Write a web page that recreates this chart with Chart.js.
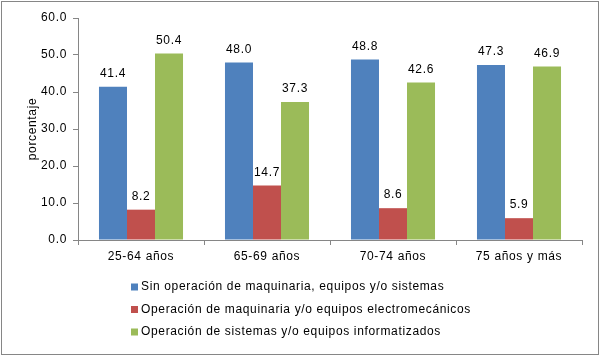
<!DOCTYPE html>
<html>
<head>
<meta charset="utf-8">
<script src="https://cdn.jsdelivr.net/npm/chart.js@4"></script>
<style>
  html, body { margin: 0; padding: 0; background: #fff; }
  #wrap { position: relative; width: 600px; height: 356px; }
  canvas { display: block; }
</style>
</head>
<body>
<div id="wrap"><canvas id="c" width="600" height="356"></canvas></div>
<script>
const categories = ["25-64 años", "65-69 años", "70-74 años", "75 años y más"];
const seriesNames = [
  "Sin operación de maquinaria, equipos y/o sistemas",
  "Operación de maquinaria y/o equipos electromecánicos",
  "Operación de sistemas y/o equipos informatizados"
];
const sinOperacion = [41.4, 48.0, 48.8, 47.3];
const maquinaria = [8.2, 14.7, 8.6, 5.9];
const sistemas = [50.4, 37.3, 42.6, 46.9];
const yTicks = [0, 10, 20, 30, 40, 50, 60];
const colors = ["#4F81BD", "#C0504D", "#9BBB59"];

const FONT = "Liberation Sans, Arial, sans-serif";
const SPACING = "0.65px";
Chart.defaults.font.family = FONT;
Chart.defaults.font.size = 12;
Chart.defaults.color = "#000";

const spacingPlugin = {
  id: "spacingPlugin",
  beforeLayout(chart) { chart.ctx.letterSpacing = SPACING; },
  beforeDraw(chart) { chart.ctx.letterSpacing = SPACING; }
};

const valueLabels = {
  id: "valueLabels",
  afterDatasetsDraw(chart) {
    const ctx = chart.ctx;
    ctx.save();
    ctx.letterSpacing = SPACING;
    ctx.font = "12px " + FONT;
    ctx.fillStyle = "#000";
    ctx.textAlign = "center";
    ctx.textBaseline = "middle";
    chart.data.datasets.forEach((ds, i) => {
      const meta = chart.getDatasetMeta(i);
      meta.data.forEach((bar, j) => {
        ctx.fillText(ds.data[j].toFixed(1), bar.x, bar.y - 13);
      });
    });
    ctx.restore();
  }
};

const customLegend = {
  id: "customLegend",
  afterDraw(chart) {
    const ctx = chart.ctx;
    ctx.save();
    ctx.letterSpacing = SPACING;
    ctx.font = "12px " + FONT;
    ctx.textBaseline = "middle";
    ctx.textAlign = "left";
    const x0 = 131, y0 = 287, dy = 22.5;
    chart.data.datasets.forEach((ds, i) => {
      const y = y0 + i * dy;
      ctx.fillStyle = ds.backgroundColor;
      ctx.fillRect(x0, y - 3.5, 7, 7);
      ctx.fillStyle = "#000";
      ctx.fillText(ds.label, x0 + 10, y);
    });
    ctx.strokeStyle = "#868686";
    ctx.lineWidth = 1;
    ctx.strokeRect(1.5, 1.5, 597, 353);
    ctx.restore();
  }
};

new Chart(document.getElementById("c"), {
  type: "bar",
  data: {
    labels: categories,
    datasets: [
      { label: seriesNames[0], data: sinOperacion, backgroundColor: colors[0] },
      { label: seriesNames[1], data: maquinaria, backgroundColor: colors[1] },
      { label: seriesNames[2], data: sistemas, backgroundColor: colors[2] }
    ]
  },
  options: {
    responsive: false,
    animation: false,
    devicePixelRatio: 1,
    layout: { padding: { left: 25, top: 18, right: 18, bottom: 86 } },
    datasets: { bar: { categoryPercentage: 0.667, barPercentage: 1.0 } },
    plugins: {
      legend: { display: false },
      tooltip: { enabled: false },
      title: { display: false }
    },
    scales: {
      x: {
        offset: true,
        grid: { drawOnChartArea: false, drawTicks: true, tickLength: 5, color: "#868686", offset: true },
        border: { color: "#868686" },
        ticks: { padding: 4, color: "#000", font: { size: 12 } },
        afterFit(s) { s.height = 30; }
      },
      y: {
        min: 0, max: 60,
        afterBuildTicks(s) { s.ticks = yTicks.map(v => ({ value: v })); },
        grid: { drawOnChartArea: false, drawTicks: true, tickLength: 5, color: "#868686" },
        border: { color: "#868686" },
        ticks: { padding: 6, color: "#000", font: { size: 12 }, callback: v => Number(v).toFixed(1) },
        title: { display: true, text: "porcentaje", color: "#000", font: { size: 12 }, padding: 0 },
        afterFit(s) { s.width = 53; }
      }
    }
  },
  plugins: [spacingPlugin, valueLabels, customLegend]
});
</script>
</body>
</html>
